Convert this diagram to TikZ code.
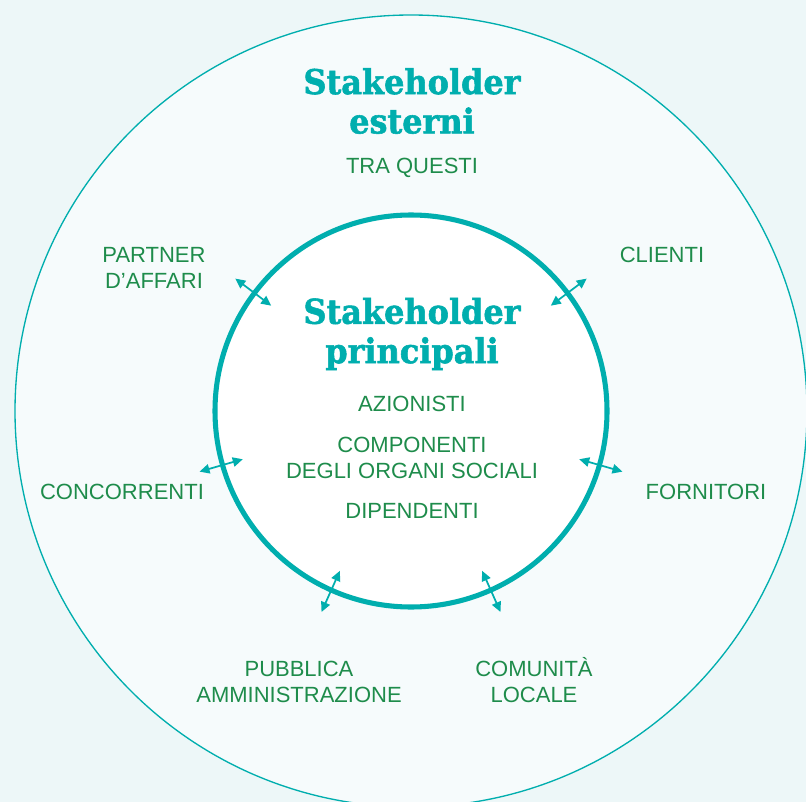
\documentclass[tikz,border=0pt]{standalone}
\usepackage{fontspec}
\setmainfont{Liberation Sans}
\newfontfamily\headfont{DejaVu Serif Condensed}[FakeBold=1.6, FakeStretch=1.04]
\usetikzlibrary{arrows.meta}

\definecolor{PageBack}{RGB}{237,247,248}
\definecolor{RingBack}{RGB}{246,251,252}
\definecolor{StakeTeal}{RGB}{0,174,174}
\definecolor{StakeGreen}{RGB}{30,140,75}

\begin{document}
\begin{tikzpicture}[
                x = 0.75pt, y = -0.75pt,
                Heading/.style={text=StakeTeal, align=center, inner sep=0pt,
                    font=\headfont\bfseries\fontsize{25.6}{29.5}\selectfont},
                Item/.style={text=StakeGreen, align=center, inner sep=0pt,
                    font=\fontsize{16.5}{19.5}\selectfont},
                Link/.style={StakeTeal, line width=1.3pt,
                    {Triangle[length=7.5pt, width=7pt]}-{Triangle[length=7.5pt, width=7pt]}},
            ]
            % page and the two rings
            \fill [PageBack] (0,0) rectangle (806,802);
            \useasboundingbox (0,0) rectangle (806,802);
            \coordinate (c) at (411,411);
            \draw [StakeTeal, line width=1pt, fill=RingBack] (c) circle [radius=396];
            \draw [StakeTeal, line width=3.8pt, fill=white] (c) circle [radius=196];

            % outer ring
            \node [Heading] (ext)    at (412,101) {Stakeholder\\esterni};
            \node [Item]    (among)  at (412,168) {TRA QUESTI};
            \node [Item]    (partn)  at (154,268) {PARTNER\\D'AFFARI};
            \node [Item]    (client) at (662,255) {CLIENTI};
            \node [Item]    (compet) at (122,492) {CONCORRENTI};
            \node [Item]    (suppl)  at (706,492) {FORNITORI};
            \node [Item]    (pa)     at (299,682) {PUBBLICA\\AMMINISTRAZIONE};
            \node [Item]    (local)  at (534,680) {COMUNITÀ\\LOCALE};

            % inner circle
            \node [Heading] (main)   at (412,334) {Stakeholder\\principali};
            \node [Item]    (share)  at (412,404) {AZIONISTI};
            \node [Item]    (board)  at (412,458) {COMPONENTI\\DEGLI ORGANI SOCIALI};
            \node [Item]    (staff)  at (412,511) {DIPENDENTI};

            % exchanges across the inner circle
            \foreach \ang/\nm in {217/partn, 323/client, 164/compet, 16/suppl, 114/pa, 66/local} {
                \coordinate (\nm-out) at ([shift={(\ang:220)}]c);
                \coordinate (\nm-in)  at ([shift={(\ang:175)}]c);
                \draw [Link] (\nm-out) -- (\nm-in);
            }
        \end{tikzpicture}
\end{document}
